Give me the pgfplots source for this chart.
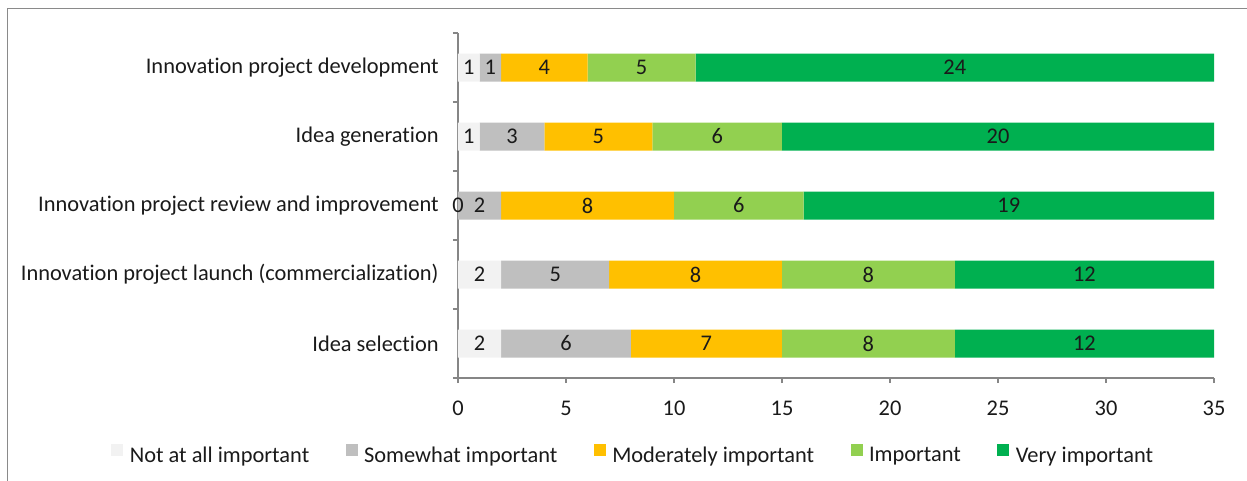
\documentclass[border=0pt]{standalone}
\usepackage{fontspec}
\setmainfont{Carlito}[Ligatures=NoCommon]
\usepackage{pgfplots}
\usepackage{pgfplotstable}
\pgfplotsset{compat=1.18}

\definecolor{cNot}{HTML}{F2F2F2}
\definecolor{cSome}{HTML}{BFBFBF}
\definecolor{cMod}{HTML}{FFC000}
\definecolor{cImp}{HTML}{92D050}
\definecolor{cVery}{HTML}{00B050}
\definecolor{axisgray}{HTML}{868686}
\definecolor{framegray}{HTML}{8A8A8A}
\definecolor{txt}{HTML}{1A1A1A}

% rows from bottom (0) to top (4)
\pgfplotstableread{
pos nota some moder imp very
0   2    6    7     8   12
1   2    5    8     8   12
2   0    2    8     6   19
3   1    3    5     6   20
4   1    1    4     5   24
}\imptable
% centre of each segment, where its value is written
\pgfplotstablecreatecol[expr={\thisrow{nota}/2}]{cA}\imptable
\pgfplotstablecreatecol[expr={\thisrow{nota}+\thisrow{some}/2}]{cB}\imptable
\pgfplotstablecreatecol[expr={\thisrow{nota}+\thisrow{some}+\thisrow{moder}/2}]{cC}\imptable
\pgfplotstablecreatecol[expr={\thisrow{nota}+\thisrow{some}+\thisrow{moder}+\thisrow{imp}/2}]{cD}\imptable
\pgfplotstablecreatecol[expr={\thisrow{nota}+\thisrow{some}+\thisrow{moder}+\thisrow{imp}+\thisrow{very}/2}]{cE}\imptable

\pgfplotsset{
  panel/.style={
    scale only axis, width=378pt, height=172.5pt,
    xmin=0, xmax=35, ymin=-0.5, ymax=4.5,
    at={(229pt,-189pt)}, anchor=south west,
  },
}

\begin{document}
\begin{tikzpicture}[font=\fontsize{11.2}{13}\selectfont]
\useasboundingbox (0,0) rectangle (623.5pt,-240.5pt);
\draw[framegray, line width=0.9pt] (3.75pt,-4.25pt) rectangle (650pt,-260pt);

\begin{axis}[panel,
  xbar stacked, bar width=14pt,
  axis x line*=bottom, axis y line*=left,
  axis line style={axisgray, line width=0.6pt},
  xtick={0,5,...,35},
  ytick={0,...,4},
  yticklabels={Idea selection,
               Innovation project launch (commercialization),
               Innovation project review and improvement,
               Idea generation,
               Innovation project development},
  minor ytick={-0.5,0.5,...,4.5},
  tick align=outside,
  major tick length=2.5pt, minor tick length=2.5pt,
  major y tick style={draw=none},
  minor y tick style={axisgray, line width=0.6pt},
  x tick style={axisgray, line width=0.6pt},
  /pgf/number format/assume math mode=true,
  xticklabel style={inner sep=0pt, yshift=-9pt, text=txt},
  yticklabel style={inner sep=0pt, xshift=-7pt, text=txt},
  legend columns=5,
  legend style={draw=none, fill=none, at={(0.2321,-0.2255)}, anchor=center,
    text=txt, inner sep=0pt,
    nodes={inner sep=1.2pt},
    /tikz/every odd column/.append style={column sep=2pt},
    /tikz/every even column/.append style={column sep=17pt}},
  every axis plot post/.append style={
    legend image code/.code={\path[##1, draw=none] (0pt,0.2pt) rectangle (6pt,6.2pt);}},
]
\addplot[fill=cNot,  draw=none] table[x=nota,  y=pos]{\imptable};
\addplot[fill=cSome, draw=none] table[x=some,  y=pos]{\imptable};
\addplot[fill=cMod,  draw=none] table[x=moder, y=pos]{\imptable};
\addplot[fill=cImp,  draw=none] table[x=imp,   y=pos]{\imptable};
\addplot[fill=cVery, draw=none] table[x=very,  y=pos]{\imptable};
\legend{Not at all important, Somewhat important, Moderately important, Important, Very important}
\end{axis}

% value of each segment, written at its centre
\begin{axis}[panel, hide axis, clip=false,
  nodes near coords, point meta=explicit symbolic,
  every node near coord/.append style={anchor=center, text=txt, inner sep=0pt},
]
\addplot[draw=none, mark=none] table[x=cA, y=pos, meta=nota] {\imptable};
\addplot[draw=none, mark=none] table[x=cB, y=pos, meta=some] {\imptable};
\addplot[draw=none, mark=none] table[x=cC, y=pos, meta=moder]{\imptable};
\addplot[draw=none, mark=none] table[x=cD, y=pos, meta=imp]  {\imptable};
\addplot[draw=none, mark=none] table[x=cE, y=pos, meta=very] {\imptable};
\end{axis}
\end{tikzpicture}
\end{document}
